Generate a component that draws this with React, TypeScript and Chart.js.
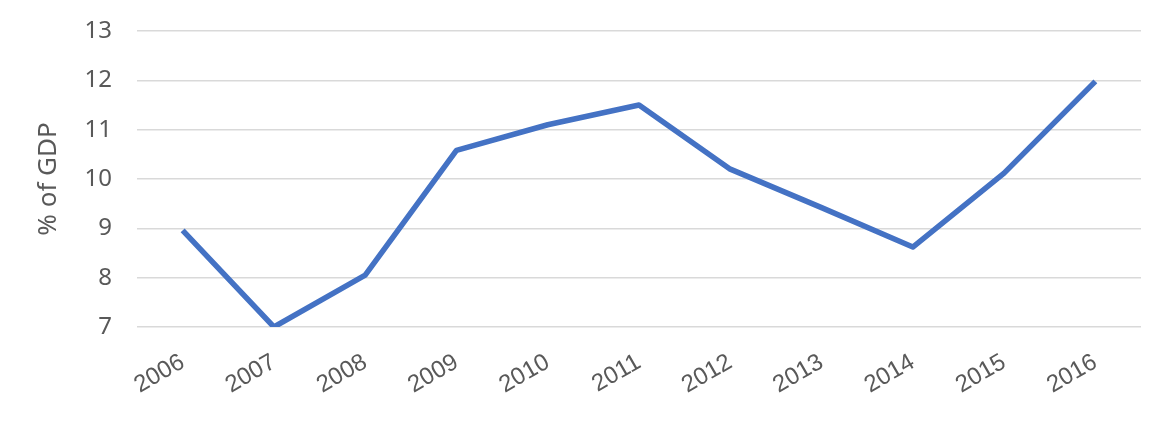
import React, { useEffect, useRef } from "react";
import { Chart, registerables } from "chart.js";

Chart.register(...registerables);

const years = ["2006", "2007", "2008", "2009", "2010", "2011", "2012", "2013", "2014", "2015", "2016"];
const gdpShare = [8.96, 7.0, 8.05, 10.58, 11.1, 11.5, 10.2, 9.42, 8.62, 10.12, 11.98];
const yMin = 7;
const yMax = 13;
const yStep = 1;
const yTitle = "% of GDP";

export default function App() {
  const ref = useRef<HTMLCanvasElement | null>(null);

  useEffect(() => {
    if (!ref.current) return;
    const chart = new Chart(ref.current, {
      type: "line",
      data: {
        labels: years,
        datasets: [
          {
            data: gdpShare,
            borderColor: "#4472C4",
            backgroundColor: "#4472C4",
            borderWidth: 5.5,
            pointRadius: 0,
            tension: 0,
            borderJoinStyle: "round",
          },
        ],
      },
      options: {
        responsive: false,
        animation: false,
        devicePixelRatio: 1,
        layout: { padding: { left: 0, top: 31, right: 14, bottom: 0 } },
        plugins: { legend: { display: false }, tooltip: { enabled: false } },
        scales: {
          x: {
            offset: true,
            grid: { display: false },
            border: { display: false },
            ticks: {
              color: "#595959",
              font: { family: "'Liberation Sans', Arial, sans-serif", size: 24 },
              minRotation: 30,
              maxRotation: 30,
              padding: 13,
              autoSkip: false,
            },
            afterFit: (s: any) => {
              s.height = 97;
            },
          },
          y: {
            min: yMin,
            max: yMax,
            grid: {
              color: "#d9d9d9",
              lineWidth: 1.5,
              drawTicks: true,
              tickLength: 25,
              tickColor: "rgba(0,0,0,0)",
            },
            border: { display: false },
            ticks: {
              stepSize: yStep,
              color: "#595959",
              font: { family: "'Noto Sans', sans-serif", size: 24 },
              padding: 0,
            },
            title: {
              display: true,
              text: yTitle,
              color: "#595959",
              font: { family: "'Noto Sans', sans-serif", size: 26 },
              padding: { top: 33, bottom: 0 },
            },
            afterFit: (s: any) => {
              s.width = 137;
            },
          },
        },
      },
    });
    return () => chart.destroy();
  }, []);

  return (
    <div style={{ position: "absolute", left: 0, top: 0, width: 1155, height: 424, background: "#fff" }}>
      <canvas ref={ref} width={1155} height={424} style={{ display: "block" }} />
    </div>
  );
}
